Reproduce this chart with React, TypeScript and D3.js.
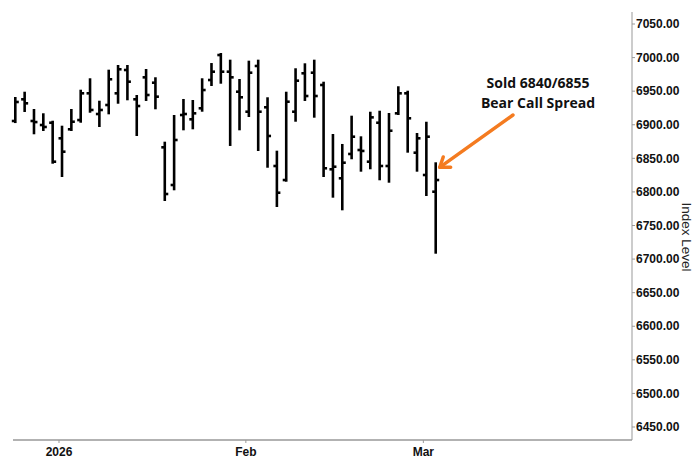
import React from "react";
import * as d3 from "d3";

const dates = [
  "2025-12-24", "2025-12-26", "2025-12-29", "2025-12-30", "2025-12-31",
  "2026-01-02", "2026-01-05", "2026-01-06", "2026-01-07", "2026-01-08", "2026-01-09",
  "2026-01-12", "2026-01-13", "2026-01-14", "2026-01-15", "2026-01-16",
  "2026-01-20", "2026-01-21", "2026-01-22", "2026-01-23",
  "2026-01-26", "2026-01-27", "2026-01-28", "2026-01-29", "2026-01-30",
  "2026-02-02", "2026-02-03", "2026-02-04", "2026-02-05", "2026-02-06",
  "2026-02-09", "2026-02-10", "2026-02-11", "2026-02-12", "2026-02-13",
  "2026-02-17", "2026-02-18", "2026-02-19", "2026-02-20",
  "2026-02-23", "2026-02-24", "2026-02-25", "2026-02-26", "2026-02-27",
  "2026-03-02", "2026-03-03",
];

const opens = [
  6905.6, 6937.9, 6905.6, 6899.6, 6903.0,
  6879.8, 6893.2, 6907.0, 6946.8, 6916.0, 6929.4,
  6946.8, 6981.5, 6937.9, 6970.6, 6962.6,
  6866.4, 6810.3, 6914.5, 6908.1,
  6924.5, 6966.6, 7003.8, 6979.0, 6949.2,
  6919.4, 6987.5, 6926.0, 6838.6, 6817.7,
  6919.4, 6976.6, 6977.5, 6959.2, 6833.7,
  6820.3, 6856.5, 6862.4, 6845.0,
  6903.0, 6838.6, 6917.0, 6946.8, 6858.4,
  6825.2, 6800.3,
];
const highs = [
  6939.8, 6947.7, 6922.0, 6915.6, 6904.5,
  6897.1, 6922.0, 6950.7, 6967.7, 6934.3, 6980.5,
  6987.5, 6987.5, 6942.8, 6981.5, 6969.2,
  6873.3, 6913.0, 6936.9, 6935.4,
  6967.7, 6990.4, 7005.3, 6995.4, 6966.6,
  6993.9, 6995.4, 6939.4, 6859.9, 6947.7,
  6982.6, 6990.0, 6995.4, 6962.6, 6884.7,
  6869.9, 6912.0, 6881.3, 6917.9,
  6919.4, 6916.0, 6955.8, 6949.2, 6886.2,
  6903.0, 6842.6,
];
const lows = [
  6904.0, 6920.5, 6887.3, 6892.2, 6843.5,
  6823.7, 6892.2, 6904.5, 6919.4, 6898.1, 6917.0,
  6932.8, 6937.9, 6884.7, 6936.9, 6924.5,
  6788.0, 6803.9, 6893.2, 6894.7,
  6920.9, 6959.2, 6962.6, 6869.9, 6893.2,
  6913.0, 6862.4, 6837.5, 6779.0, 6816.7,
  6906.0, 6936.9, 6912.0, 6823.7, 6792.9,
  6774.1, 6850.1, 6831.6, 6835.2,
  6818.8, 6815.2, 6916.0, 6859.9, 6831.6,
  6795.4, 6709.5,
];
const closes = [
  6933.9, 6931.9, 6904.0, 6896.7, 6845.0,
  6859.9, 6904.5, 6946.8, 6922.0, 6922.0, 6967.7,
  6982.6, 6964.1, 6927.9, 6944.3, 6941.8,
  6796.9, 6877.3, 6916.0, 6917.0,
  6951.7, 6979.0, 6979.0, 6970.6, 6940.9,
  6977.5, 6919.4, 6883.3, 6798.8, 6934.3,
  6965.6, 6942.8, 6942.8, 6835.2, 6837.5,
  6843.5, 6882.2, 6861.0, 6911.0,
  6838.6, 6891.1, 6946.8, 6909.6, 6879.8,
  6882.2, 6817.7,
];

const yTicks = [7050, 7000, 6950, 6900, 6850, 6800, 6750, 6700, 6650, 6600, 6550, 6500, 6450];
const xTickDates = ["2026-01-02", "2026-02-02", "2026-03-02"];
const xTickLabels = ["2026", "Feb", "Mar"];
const annotationLines = ["Sold 6840/6855", "Bear Call Spread"];
const yAxisTitle = "Index Level";

export default function App() {
  const W = 700;
  const H = 469;
  const plotLeft = 13;
  const plotRight = 632;
  const plotBottom = 440;
  const plotTop = 12;

  const x = d3.scaleLinear().domain([0, dates.length - 1]).range([15.3, 435.7]);
  const y = d3.scaleLinear().domain([6450, 7050]).range([427, 24]);

  const lastIdx = dates.length - 1;
  const tipX = x(lastIdx) + 4;
  const tipY = y(highs[lastIdx]) + 4;
  const tailX = 513;
  const tailY = 115;
  const ang = Math.atan2(tailY - tipY, tailX - tipX);
  const headLen = 11;
  const spread = 0.62;
  const h1 = [tipX + headLen * Math.cos(ang - spread), tipY + headLen * Math.sin(ang - spread)];
  const h2 = [tipX + headLen * Math.cos(ang + spread), tipY + headLen * Math.sin(ang + spread)];
  const orange = "#F47B20";

  return (
    <svg
      width={W}
      height={H}
      style={{ position: "absolute", left: 0, top: 0, background: "#fff" }}
    >
      <rect x={0} y={0} width={W} height={H} fill="#fff" />
      {/* axes */}
      <line x1={plotRight} y1={plotTop} x2={plotRight} y2={plotBottom} stroke="#999" strokeWidth={1} />
      <line x1={plotLeft} y1={plotBottom} x2={plotRight} y2={plotBottom} stroke="#999" strokeWidth={1.5} />
      {yTicks.map((t) => (
        <g key={t}>
          <line x1={plotRight} x2={plotRight + 3} y1={y(t)} y2={y(t)} stroke="#999" />
          <text
            x={plotRight + 4}
            y={y(t)}
            dy="0.35em"
            fontFamily="Liberation Sans, Arial, sans-serif"
            fontWeight="bold"
            fontSize={12}
            fill="#111"
          >
            {t.toFixed(2)}
          </text>
        </g>
      ))}
      <text
        transform={`translate(682, 237) rotate(90)`}
        textAnchor="middle"
        fontFamily="Liberation Sans, Arial, sans-serif"
        fontSize={13.5}
        fill="#222"
      >
        {yAxisTitle}
      </text>
      {xTickDates.map((d, i) => {
        const idx = dates.indexOf(d);
        const px = x(idx) - 3;
        return (
          <g key={d}>
            <line x1={px} x2={px} y1={plotBottom} y2={plotBottom + 3} stroke="#999" />
            <text
              x={px}
              y={456}
              textAnchor="middle"
              fontFamily="Liberation Sans, Arial, sans-serif"
              fontWeight="bold"
              fontSize={12}
              fill="#111"
            >
              {xTickLabels[i]}
            </text>
          </g>
        );
      })}
      {/* OHLC bars */}
      {dates.map((d, i) => {
        const cx = x(i);
        return (
          <g key={d} stroke="#000" strokeWidth={2.6}>
            <line x1={cx} x2={cx} y1={y(highs[i]) - 1} y2={y(lows[i]) + 1} />
            <line x1={cx - 3.5} x2={cx} y1={y(opens[i])} y2={y(opens[i])} />
            <line x1={cx} x2={cx + 3.5} y1={y(closes[i])} y2={y(closes[i])} />
          </g>
        );
      })}
      {/* annotation */}
      <g stroke={orange} strokeWidth={3.4} strokeLinecap="round" fill="none">
        <line x1={tailX} y1={tailY} x2={tipX} y2={tipY} />
        <polyline points={`${h1[0]},${h1[1]} ${tipX},${tipY} ${h2[0]},${h2[1]}`} strokeLinejoin="round" />
      </g>
      {annotationLines.map((l, i) => (
        <text
          key={l}
          x={538}
          y={88 + i * 19.5}
          textAnchor="middle"
          fontFamily="Open Sans, sans-serif"
          fontWeight="bold"
          fontSize={14}
          fill="#111"
        >
          {l}
        </text>
      ))}
    </svg>
  );
}
